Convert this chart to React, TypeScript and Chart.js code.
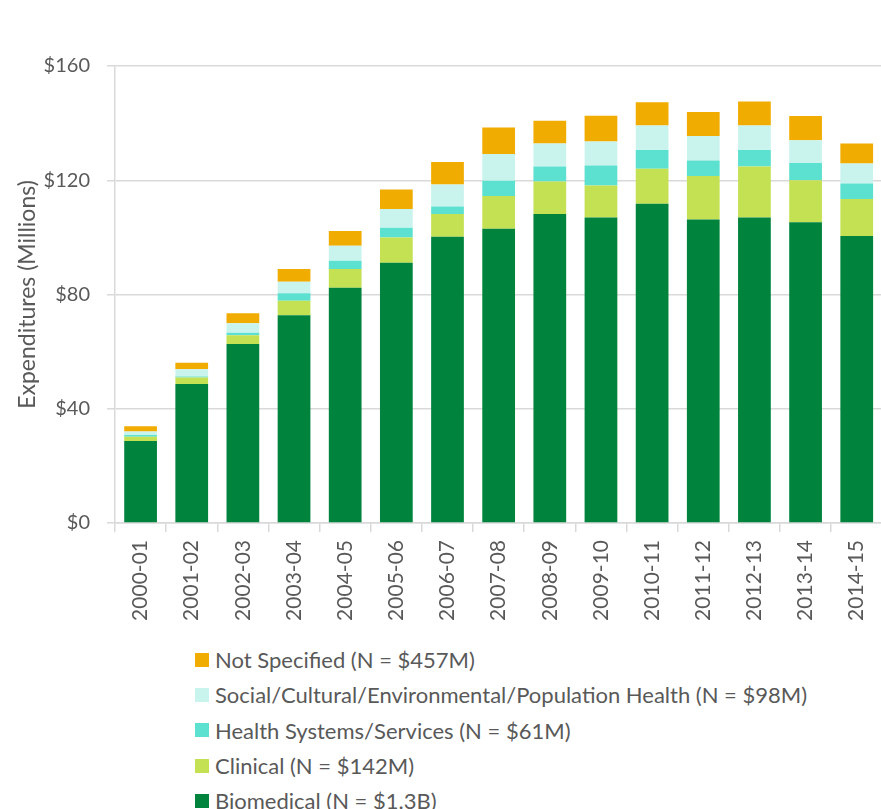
import React, { useEffect, useRef } from "react";
import { Chart, registerables } from "chart.js";

Chart.register(...registerables);

const categories = [
  "2000-01", "2001-02", "2002-03", "2003-04", "2004-05", "2005-06", "2006-07", "2007-08",
  "2008-09", "2009-10", "2010-11", "2011-12", "2012-13", "2013-14", "2014-15",
];

const biomedical = [28.7, 48.7, 62.7, 72.7, 82.4, 91.1, 100.2, 103.0, 108.2, 107.0, 111.8, 106.3, 107.0, 105.3, 100.5];
const clinical = [1.5, 2.2, 3.0, 5.1, 6.5, 8.9, 8.0, 11.5, 11.4, 11.2, 12.2, 15.2, 17.8, 14.7, 12.9];
const healthSystems = [0.6, 0.4, 0.9, 2.6, 2.9, 3.4, 2.6, 5.3, 5.2, 7.0, 6.6, 5.4, 5.8, 6.0, 5.5];
const social = [1.2, 2.5, 3.3, 4.1, 5.3, 6.5, 7.7, 9.4, 8.1, 8.4, 8.6, 8.6, 8.6, 8.0, 7.0];
const notSpecified = [1.9, 2.3, 3.5, 4.4, 5.1, 6.9, 7.9, 9.3, 7.9, 9.0, 8.1, 8.4, 8.4, 8.5, 7.0];

const seriesLabels = [
  "Biomedical (N = $1.3B)",
  "Clinical (N = $142M)",
  "Health Systems/Services (N = $61M)",
  "Social/Cultural/Environmental/Population Health (N = $98M)",
  "Not Specified (N = $457M)",
];
const seriesColors = ["#00843D", "#C4E153", "#5CE0CF", "#C9F4EE", "#F0AC00"];
const seriesValues = [biomedical, clinical, healthSystems, social, notSpecified];

const yTicks = [0, 40, 80, 120, 160];
const yTitle = "Expenditures (Millions)";

const FONT = "Lato, 'Open Sans', sans-serif";
const TEXT = "#595959";
const GRID = "#d9d9d9";

export default function App() {
  const canvasRef = useRef<HTMLCanvasElement | null>(null);

  useEffect(() => {
    if (!canvasRef.current) return;
    const chart = new Chart(canvasRef.current, {
      type: "bar",
      data: {
        labels: categories,
        datasets: seriesValues.map((vals, i) => ({
          label: seriesLabels[i],
          data: vals,
          backgroundColor: seriesColors[i],
          borderWidth: 0,
          categoryPercentage: 1,
          barPercentage: 0.64,
        })),
      },
      options: {
        animation: false,
        responsive: false,
        layout: { padding: { top: 66, left: 0, right: 2, bottom: 0 } },
        plugins: {
          legend: { display: false },
          tooltip: { enabled: false },
        },
        scales: {
          x: {
            stacked: true,
            afterFit: (s: any) => { s.height = 107; },
            grid: {
              drawOnChartArea: false,
              drawTicks: true,
              tickLength: 9,
              color: GRID,
              lineWidth: 1.5,
            },
            border: { display: true, color: GRID, width: 1.5 },
            ticks: {
              minRotation: 90,
              maxRotation: 90,
              autoSkip: false,
              padding: 8,
              color: TEXT,
              font: { family: FONT, size: 21 },
            },
          },
          y: {
            stacked: true,
            min: 0,
            max: 160,
            afterFit: (s: any) => { s.width = 115; },
            afterBuildTicks: (s: any) => { s.ticks = yTicks.map((v) => ({ value: v })); },
            grid: {
              color: GRID,
              lineWidth: 1.5,
              drawTicks: true,
              tickLength: 8,
            },
            border: { display: true, color: GRID, width: 1.5 },
            ticks: {
              padding: 17,
              color: TEXT,
              font: { family: FONT, size: 20 },
              callback: (v: any) => "$" + v,
            },
            title: {
              display: true,
              text: yTitle,
              color: TEXT,
              font: { family: FONT, size: 23 },
              padding: { top: 14, bottom: 0 },
            },
          },
        },
      },
    });
    return () => chart.destroy();
  }, []);

  const legendOrder = [4, 3, 2, 1, 0];

  return (
    <div style={{ position: "fixed", left: 0, top: 0, width: 881, height: 809, overflow: "hidden", background: "#fff" }}>
      <canvas ref={canvasRef} width={890} height={630} style={{ position: "absolute", left: 0, top: 0, width: 890, height: 630 }} />
      <div style={{ position: "absolute", left: 195, top: 642, fontFamily: FONT, fontSize: 22, color: TEXT }}>
        {legendOrder.map((i) => (
          <div key={i} style={{ display: "flex", alignItems: "center", height: 35.3, whiteSpace: "nowrap" }}>
            <span style={{ display: "inline-block", width: 14, height: 14, background: seriesColors[i], marginRight: 6 }} />
            <span>{seriesLabels[i]}</span>
          </div>
        ))}
      </div>
    </div>
  );
}
